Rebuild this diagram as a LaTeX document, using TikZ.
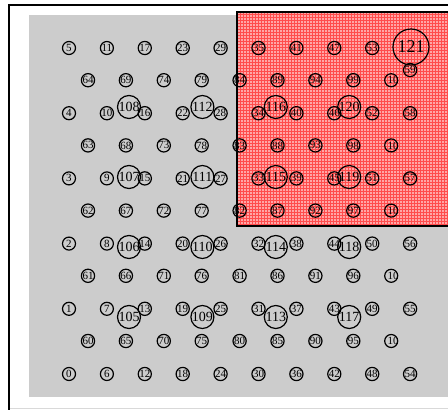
\documentclass[tikz,border=0pt]{standalone}
\usepackage{fontspec}
\setmainfont{Liberation Serif}
\usetikzlibrary{patterns}
\tikzset{
  sensor/.style={circle, draw=black, line width=1.2pt, inner sep=0pt,
    minimum size=13pt, font=\fontsize{11}{11}\selectfont},
  longid/.style={sensor, path picture={\node[font=\fontsize{11}{11}\selectfont,
    anchor=west, inner sep=0pt] at ([xshift=1.5pt]path picture bounding box.west) {#1};}},
  head/.style={circle, draw=black, line width=1.2pt, inner sep=0pt,
    minimum size=23pt, font=\fontsize{14}{14}\selectfont},
  sink/.style={head, minimum size=36pt, font=\fontsize{18}{18}\selectfont},
}
\begin{document}
\begin{tikzpicture}[x=1pt,y=-1pt]
  \useasboundingbox (0,0) rectangle (448,410);
  % frame and field
  \draw[line width=2pt] (9,412) -- (9,5) -- (452,5);
  \draw[black!15, line width=0.6pt] (10,408) -- (452,408);
  \fill[black!20] (29,15) rectangle (452,397);
  % event zone
  \fill[red!35!white] (237,12) rectangle (452,226);
  \fill[pattern=grid, pattern color=red!70] (237,12) rectangle (452,226);
  \draw[line width=1.4pt] (452,12) -- (237,12) -- (237,226) -- (452,226);
  % sensors 0..59 (59 sits just under the sink)
  \foreach \c in {0,...,9}
    \foreach \r in {0,...,5} {
      \pgfmathtruncatemacro\id{6*\c+\r}
      \pgfmathsetmacro\yy{\id==59 ? 70 : 374-65.2*\r}
      \node[sensor] (n\id) at (69+37.9*\c, \yy) {\id};
    }
  % sensors 60..99
  \foreach \c in {0,...,7}
    \foreach \r in {0,...,4} {
      \pgfmathtruncatemacro\id{60+5*\c+\r}
      \node[sensor] (n\id) at (88+37.9*\c, 341-65.2*\r) {\id};
    }
  % sensors 100..104
  \foreach \r in {0,...,4} {
    \pgfmathtruncatemacro\id{100+\r}
    \node[longid=\id] (n\id) at (391.2, 341-65.2*\r) {};
  }
  % cluster heads 105..120
  \foreach \c in {0,...,3}
    \foreach \r in {0,...,3} {
      \pgfmathtruncatemacro\id{105+4*\c+\r}
      \node[head] (n\id) at (129+73.4*\c, 317-70*\r) {\id};
    }
  \node[sink] (n121) at (411,47) {121};
\end{tikzpicture}
\end{document}
